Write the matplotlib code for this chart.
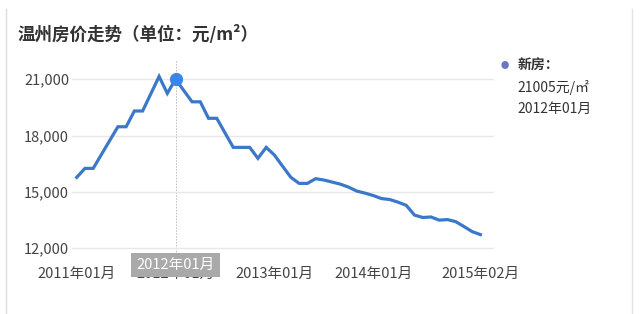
import numpy as np
import pandas as pd
import matplotlib
matplotlib.use('Agg')
from matplotlib import pyplot as plt

plt.rcParams['font.family'] = ['Noto Sans CJK SC', 'DejaVu Sans']

# monthly new-house price in Wenzhou, yuan per square metre
months = pd.period_range('2011-01', '2015-02', freq='M')
prices = [15770, 16250, 16250, 16990, 17730, 18470, 18470, 19310, 19310, 20230,
          21150, 20250, 21005, 20400, 19800, 19800, 18920, 18920, 18145, 17370,
          17370, 17370, 16785, 17370, 16960, 16360, 15770, 15450, 15450, 15700,
          15630, 15520, 15410, 15250, 15040, 14930, 14800, 14640, 14590, 14450,
          14280, 13760, 13630, 13660, 13490, 13520, 13410, 13150, 12880, 12720]
tick_months = ['2011-01', '2012-01', '2013-01', '2014-01', '2015-02']
y_ticks = [12000, 15000, 18000, 21000]
hover_month = '2012-01'
series_name = '新房'

x = np.arange(len(months))
labels = [p.strftime('%Y年%m月') for p in months]
pos = {str(p): i for i, p in enumerate(months)}
hi = pos[hover_month]

fig = plt.figure(figsize=(6.4, 3.14), dpi=100)
ax = fig.add_axes([0.1125, 0.178, 0.66, 0.631])

ax.plot(x, prices, color='#3b78c8', lw=2.3, solid_joinstyle='miter', zorder=3)
ax.plot(x[hi], prices[hi], 'o', color='#3a86e8', ms=8.5, zorder=4)
ax.axvline(x[hi], color='#bbbbbb', lw=0.7, ls=(0, (1.5, 1.5)), zorder=1,
           ymin=-0.1, clip_on=False)

ax.set_xlim(-0.57, 50.7)
ax.set_ylim(11466, 22030)
ax.set_yticks(y_ticks)
ax.set_yticklabels([f'{v:,}' for v in y_ticks])
ax.set_xticks([pos[m] for m in tick_months])
ax.set_xticklabels([labels[pos[m]] for m in tick_months])
ax.grid(axis='y', color='#e8e8e8', lw=1)
ax.tick_params(length=0, labelsize=10.5, colors='#444444')
ax.tick_params(axis='x', pad=6)
ax.tick_params(axis='y', pad=2)
for s in ax.spines.values():
    s.set_visible(False)

# hover label over the x axis
ax.annotate(labels[hi], xy=(x[hi], 0), xycoords=('data', 'axes fraction'),
            xytext=(0, -5), textcoords='offset points', ha='center', va='center',
            fontsize=10.5, color='white', zorder=5, annotation_clip=False,
            bbox=dict(boxstyle='square,pad=0.35', fc='#a9a9a9', ec='none'))

fig.text(0.027, 0.89, '温州房价走势（单位：元/m²）', fontsize=12.6, fontweight='bold',
         color='#333333', va='center')

# tooltip legend on the right
fig.text(0.789, 0.79, '●', fontsize=6, color='#6678c0', va='center', ha='center')
fig.text(0.809, 0.79, series_name + '：', fontsize=10, fontweight='bold',
         color='#333333', va='center')
fig.text(0.809, 0.72, f'{prices[hi]}元/㎡', fontsize=10, color='#333333', va='center')
fig.text(0.809, 0.652, labels[hi], fontsize=10, color='#333333', va='center')

# panel borders
fig.add_artist(plt.Line2D([0.009, 0.009], [0, 0.97], color='#dddddd', lw=1))
fig.add_artist(plt.Line2D([0.988, 0.988], [0, 0.97], color='#e4e4e4', lw=1))

fig.savefig('out.png', dpi=100)
